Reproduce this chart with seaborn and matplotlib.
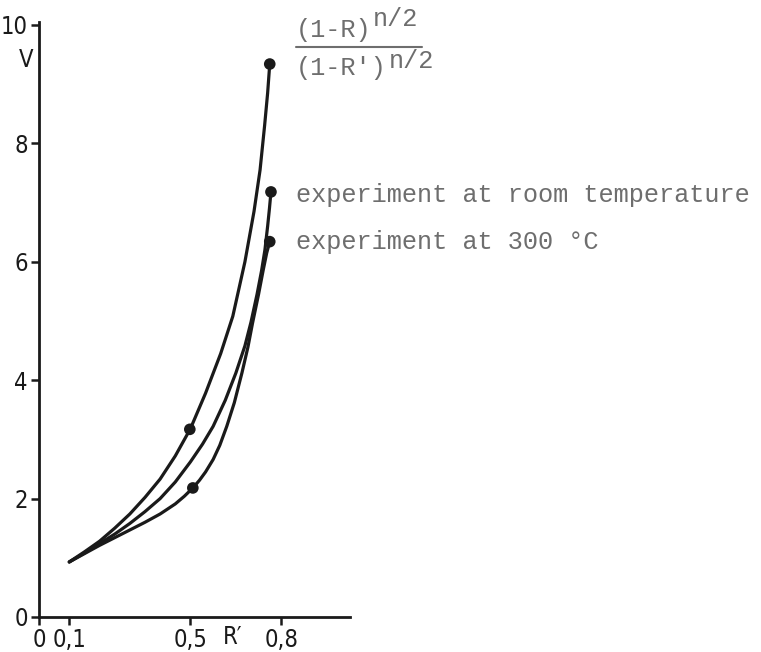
import matplotlib
matplotlib.use("Agg")
import matplotlib.pyplot as plt
from matplotlib.font_manager import FontProperties
import seaborn as sns

# ---- data ----
# theoretical curve (1-R)^(n/2)/(1-R')^(n/2)
theory_r = [0.10, 0.15, 0.20, 0.25, 0.30, 0.35, 0.40, 0.45, 0.50, 0.55, 0.60, 0.64, 0.68, 0.71, 0.73, 0.745, 0.755, 0.762]
theory_v = [0.93, 1.10, 1.28, 1.50, 1.74, 2.02, 2.33, 2.72, 3.18, 3.78, 4.45, 5.08, 6.00, 6.85, 7.55, 8.30, 8.85, 9.34]

# experiment at room temperature
room_r = [0.10, 0.15, 0.20, 0.25, 0.30, 0.35, 0.40, 0.45, 0.50, 0.54, 0.575, 0.615, 0.65, 0.68, 0.70, 0.72, 0.735, 0.746, 0.755, 0.761, 0.766]
room_v = [0.93, 1.08, 1.24, 1.40, 1.58, 1.78, 2.00, 2.28, 2.62, 2.92, 3.22, 3.66, 4.12, 4.58, 4.98, 5.45, 5.85, 6.20, 6.60, 6.90, 7.18]

# experiment at 300 C
hot_r = [0.10, 0.15, 0.20, 0.25, 0.30, 0.35, 0.40, 0.45, 0.48, 0.508, 0.53, 0.55, 0.575, 0.597, 0.62, 0.645, 0.67, 0.69, 0.705, 0.725, 0.74, 0.752, 0.762]
hot_v = [0.93, 1.07, 1.21, 1.34, 1.47, 1.60, 1.74, 1.91, 2.04, 2.18, 2.31, 2.45, 2.66, 2.90, 3.22, 3.62, 4.12, 4.56, 4.96, 5.45, 5.85, 6.15, 6.34]

# highlighted points (dots)
dot_r = [0.498, 0.762, 0.766, 0.508, 0.762]
dot_v = [3.17, 9.34, 7.18, 2.18, 6.34]

xtick_vals = [0, 0.1, 0.5, 0.8]
xtick_labels = ["0", "0,1", "0,5", "0,8"]
ytick_vals = [0, 2, 4, 6, 8, 10]
ytick_labels = ["0", "2", "4", "6", "8", "10"]

W, H = 761, 652
sns.set_style("ticks")
plt.rcParams["font.family"] = ["DejaVu Sans"]

fig = plt.figure(figsize=(W / 100, H / 100), dpi=100)
ax = fig.add_axes([39 / W, 1 - 617 / H, (350 - 39) / W, (617 - 22) / H])

ink = "#1a1a1a"
line_kw = dict(color=ink, linewidth=2.3, sort=False, estimator=None, ax=ax)
sns.lineplot(x=theory_r, y=theory_v, **line_kw)
sns.lineplot(x=room_r, y=room_v, **line_kw)
sns.lineplot(x=hot_r, y=hot_v, **line_kw)
sns.scatterplot(x=dot_r, y=dot_v, color=ink, s=70, edgecolor="none", ax=ax, zorder=5)

ax.set_xlim(0, 1.027)
ax.set_ylim(0, 10.05)
ax.set_xticks(xtick_vals)
ax.set_xticklabels(xtick_labels)
ax.set_yticks(ytick_vals)
ax.set_yticklabels(ytick_labels)
tick_font = dict(family="DejaVu Sans", stretch="condensed", size=17)
for lab in ax.get_xticklabels() + ax.get_yticklabels():
    lab.set_fontproperties(FontProperties(**tick_font))
ax.tick_params(axis="both", direction="out", length=6, width=1.8, color=ink,
               labelcolor=ink, pad=2)
for s in ["left", "bottom"]:
    ax.spines[s].set_linewidth(2.0)
    ax.spines[s].set_color(ink)
sns.despine(ax=ax)
ax.set_xlabel("")
ax.set_ylabel("")

# axis names
fig.text(233 / W, 1 - 637 / H, "R\u2032", ha="center", va="center", color=ink,
         fontproperties=FontProperties(**tick_font))
fig.text(26 / W, 1 - 60 / H, "V", ha="center", va="center", color=ink,
         fontproperties=FontProperties(**tick_font))

# annotations (typewriter style)
gray = "#6e6e6e"
mono = dict(family="Liberation Mono", size=18.2, color=gray)
fig.text(296 / W, 1 - 30 / H, "(1-R)", ha="left", va="center", **mono)
fig.text(373 / W, 1 - 19 / H, "n/2", ha="left", va="center", **mono)
fig.add_artist(plt.Line2D([296 / W, 422 / W], [1 - 47 / H, 1 - 47 / H], color=gray,
                          linewidth=1.5, transform=fig.transFigure))
fig.text(296 / W, 1 - 68 / H, "(1-R')", ha="left", va="center", **mono)
fig.text(389 / W, 1 - 61 / H, "n/2", ha="left", va="center", **mono)

fig.text(296 / W, 1 - 195 / H, "experiment at room temperature", ha="left", va="center", **mono)
fig.text(296 / W, 1 - 242 / H, "experiment at 300 \u00b0C", ha="left", va="center", **mono)

fig.savefig("out.png", dpi=100)
